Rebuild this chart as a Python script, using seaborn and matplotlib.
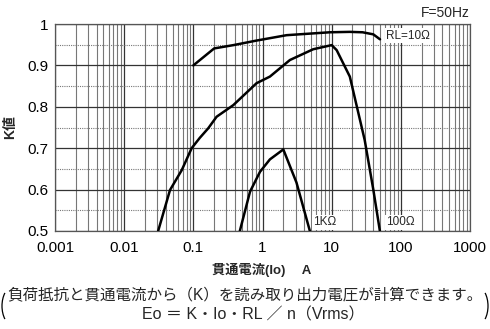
import matplotlib
matplotlib.use("Agg")
import matplotlib.pyplot as plt
import seaborn as sns
import pandas as pd
from matplotlib.patches import Arc
from matplotlib.ticker import LogLocator, FixedLocator, NullFormatter

# ---- data ----
rl10_x = [0.1, 0.2, 0.38, 0.82, 2.23, 9.4, 18.3, 28, 40, 50]
rl10_y = [0.9, 0.941, 0.949, 0.960, 0.973, 0.980, 0.981, 0.980, 0.975, 0.963]

rl100_x = [0.031, 0.046, 0.068, 0.0945, 0.124, 0.164, 0.217, 0.378, 0.82, 1.28, 2.49, 5.4, 10, 11.8, 18.3, 30, 40, 49.8]
rl100_y = [0.5, 0.599, 0.647, 0.70, 0.725, 0.748, 0.776, 0.804, 0.857, 0.873, 0.913, 0.939, 0.949, 0.937, 0.873, 0.72, 0.60, 0.5]

rl1k_x = [0.47, 0.66, 0.92, 1.28, 2.0, 3.1, 4.84]
rl1k_y = [0.5, 0.595, 0.643, 0.673, 0.697, 0.617, 0.5]

x_ticks = [0.001, 0.01, 0.1, 1, 10, 100, 1000]
x_ticklabels = ["0.001", "0.01", "0.1", "1", "10", "100", "1000"]
y_ticks = [0.5, 0.6, 0.7, 0.8, 0.9, 1.0]
y_ticklabels = ["0.5", "0.6", "0.7", "0.8", "0.9", "1"]

sns.set_style("white")
plt.rcParams['font.family'] = ['Liberation Sans', 'Noto Sans CJK JP', 'DejaVu Sans']

fig = plt.figure(figsize=(4.9, 3.29), dpi=100)
ax = fig.add_axes([55/490, 1 - 231/329, 415/490, 207/329])

frames = [
    pd.DataFrame({"x": rl10_x, "y": rl10_y, "c": "10"}),
    pd.DataFrame({"x": rl100_x, "y": rl100_y, "c": "100"}),
    pd.DataFrame({"x": rl1k_x, "y": rl1k_y, "c": "1k"}),
]
for df in frames:
    sns.lineplot(data=df, x="x", y="y", ax=ax, color="black", linewidth=1.8,
                 sort=False, estimator=None, zorder=5)

ax.set_xscale("log")
ax.set_xlim(0.001, 1000)
ax.set_ylim(0.5, 1.0)

ax.xaxis.set_major_locator(FixedLocator(x_ticks))
ax.set_xticklabels(x_ticklabels)
ax.xaxis.set_minor_locator(LogLocator(base=10, subs=range(2, 10)))
ax.xaxis.set_minor_formatter(NullFormatter())
ax.yaxis.set_major_locator(FixedLocator(y_ticks))
ax.set_yticklabels(y_ticklabels)
ax.yaxis.set_minor_locator(FixedLocator([0.55, 0.65, 0.75, 0.85, 0.95]))

ax.grid(which="major", axis="both", color="#333333", linewidth=0.9)
ax.grid(which="minor", axis="x", color="#777777", linewidth=0.8)
ax.grid(which="minor", axis="y", color="#777777", linewidth=0.8, linestyle=(0, (1, 1)))
ax.set_axisbelow(True)

ax.tick_params(axis="x", which="both", length=0, labelsize=11, pad=7, colors="black")
ax.tick_params(axis="y", which="both", length=0, labelsize=11, pad=5, colors="black")
for s in ax.spines.values():
    s.set_color("#555555")
    s.set_linewidth(0.9)

ax.set_xlabel("")
ax.set_ylabel("K値", fontsize=10, fontweight="bold", labelpad=7)

# curve labels (white boxes break the grid, as in the reference)
box = dict(facecolor="white", edgecolor="none", pad=1.0)
ax.text(62, 0.972, "RL=10Ω", fontsize=8.5, va="center", ha="left", bbox=box, zorder=6)
ax.text(5.4, 0.521, "1KΩ", fontsize=8.5, va="center", ha="left", bbox=box, zorder=6)
ax.text(62, 0.521, "100Ω", fontsize=8.5, va="center", ha="left", bbox=box, zorder=6)

fig.text(470/490, 1 - 13/329, "F=50Hz", fontsize=10, ha="right", va="center")

fig.text(262/490, 1 - 270/329, "貫通電流(Io)　 A", fontsize=9.5, fontweight="bold",
         ha="center", va="center")

fig.text(245/490, 1 - 296/329, "負荷抵抗と貫通電流から（K）を読み取り出力電圧が計算できます。",
         fontsize=11.2, ha="center", va="center")
fig.text(253/490, 1 - 315/329, "Eo ＝ K・Io・RL ／ n（Vrms）",
         fontsize=11.5, ha="center", va="center")

# large brackets around the note
fig.add_artist(Arc((14/490, 1 - 306/329), 24/490, 40/329, theta1=115, theta2=245,
                   transform=fig.transFigure, color="black", linewidth=0.9))
fig.add_artist(Arc((476/490, 1 - 306/329), 24/490, 40/329, theta1=-65, theta2=65,
                   transform=fig.transFigure, color="black", linewidth=0.9))

fig.savefig("out.png", dpi=100)
